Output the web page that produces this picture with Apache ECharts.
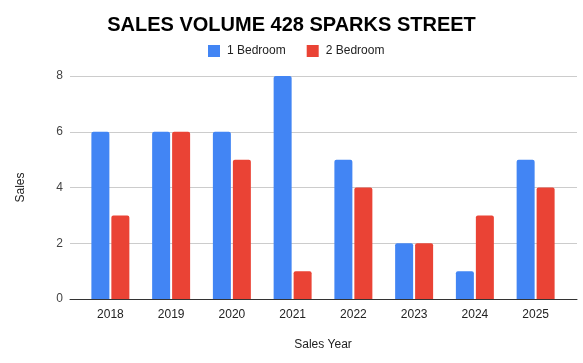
<!DOCTYPE html>
<html><head><meta charset="utf-8">
<script src="https://cdn.jsdelivr.net/npm/echarts@6/dist/echarts.min.js"></script>
<style>html,body{margin:0;padding:0;background:#fff}#c{width:583px;height:363px}</style>
</head><body><div id="c"></div>
<script>
const categories = ['2018','2019','2020','2021','2022','2023','2024','2025'];
const oneBedroom = [6,6,6,8,5,2,1,5];
const twoBedroom = [3,6,5,1,4,2,3,4];
const yTicks = [0,2,4,6,8];
const chart = echarts.init(document.getElementById('c'));
const font = 'Liberation Sans, Arial, sans-serif';
chart.setOption({
  animation:false,
  title:{text:'SALES VOLUME 428 SPARKS STREET',left:'center',top:10,
    textStyle:{fontFamily:font,fontSize:20,fontWeight:'bold',color:'#000'}},
  legend:{top:40,left:203,itemWidth:12,itemHeight:12,itemGap:21,icon:'rect',
    textStyle:{fontFamily:font,fontSize:12,color:'#222',padding:[0,0,0,2]}},
  grid:[
    {left:70,right:6,top:76,bottom:64},
    {left:80,right:17,top:76,bottom:64}
  ],
  xAxis:[
    {gridIndex:0,type:'category',data:[''],axisTick:{show:false},axisLabel:{show:false},
      axisLine:{lineStyle:{color:'#333'}}},
    {gridIndex:1,type:'category',data:categories,name:'Sales Year',nameLocation:'middle',nameGap:40,
      nameTextStyle:{fontFamily:font,fontSize:12,color:'#222'},
      axisTick:{show:false},axisLine:{show:false},
      axisLabel:{fontFamily:font,fontSize:12,color:'#222',margin:10}}
  ],
  yAxis:[
    {gridIndex:0,type:'value',min:0,max:8,interval:2,name:'Sales',nameLocation:'middle',nameGap:43,
      nameTextStyle:{fontFamily:font,fontSize:12,color:'#222'},
      axisLabel:{fontFamily:font,fontSize:12,color:'#444',margin:7,
        formatter:v=>yTicks.includes(v)?String(v):''},
      splitLine:{lineStyle:{color:'#ccc'}}},
    {gridIndex:1,type:'value',min:0,max:8,interval:2,show:false,splitLine:{show:false}}
  ],
  series:[
    {name:'1 Bedroom',type:'bar',xAxisIndex:1,yAxisIndex:1,data:oneBedroom,barWidth:18,barGap:'11%',
      itemStyle:{color:'#4285F4',borderRadius:[2,2,0,0]}},
    {name:'2 Bedroom',type:'bar',xAxisIndex:1,yAxisIndex:1,data:twoBedroom,barWidth:18,barGap:'11%',
      itemStyle:{color:'#EA4335',borderRadius:[2,2,0,0]}}
  ]
});
</script></body></html>
